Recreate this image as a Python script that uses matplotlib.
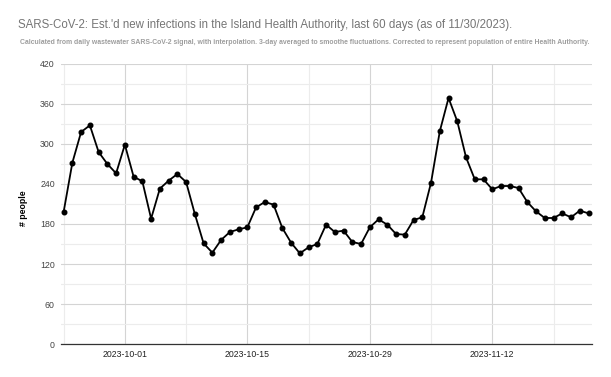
import datetime as dt

import matplotlib
matplotlib.use("Agg")
import matplotlib.dates as mdates
import matplotlib.pyplot as plt
from matplotlib.ticker import MultipleLocator

start = dt.date(2023, 9, 24)
infections = [
    198, 272, 318, 328, 288, 270, 256,
    299, 251, 244, 188, 233, 245, 255, 243, 195, 151, 137, 156, 168, 172,
    175, 205, 213, 209, 174, 152, 136, 145, 150, 179, 168, 170, 153, 150,
    175, 187, 179, 165, 164, 186, 190, 242, 319, 369, 334, 280, 247, 247,
    232, 237, 237, 234, 213, 199, 189, 189, 196, 190, 200, 196,
]
dates = [start + dt.timedelta(days=i) for i in range(len(infections))]
labelled_dates = [dt.date(2023, 10, 1), dt.date(2023, 10, 15),
                  dt.date(2023, 10, 29), dt.date(2023, 11, 12)]
week_dates = [dt.date(2023, 9, 24) + dt.timedelta(days=7 * k) for k in range(9)]

title = ("SARS-CoV-2: Est.'d new infections in the Island Health Authority, "
         "last 60 days (as of 11/30/2023).")
subtitle = ("Calculated from daily wastewater SARS-CoV-2 signal, with interpolation. "
            "3-day averaged to smoothe fluctuations. Corrected to represent "
            "population of entire Health Authority.")

plt.rcParams["font.family"] = ["Liberation Sans", "DejaVu Sans"]

fig = plt.figure(figsize=(6.11, 3.77), dpi=100)
ax = fig.add_axes([61 / 611, 1 - 344 / 377, (592 - 61) / 611, (344 - 64) / 377])

ax.plot(dates, infections, color="black", lw=1.3, marker="o", ms=3.3, zorder=3)

ax.set_ylim(0, 420)
ax.yaxis.set_major_locator(MultipleLocator(60))
ax.yaxis.set_minor_locator(MultipleLocator(30))
ax.set_xlim(mdates.date2num(start) - 0.3, mdates.date2num(dates[-1]) + 0.4)
ax.set_xticks(mdates.date2num(labelled_dates))
ax.set_xticklabels([d.isoformat() for d in labelled_dates])
ax.set_xticks([mdates.date2num(d) for d in week_dates if d not in labelled_dates],
              minor=True)

ax.grid(which="major", color="#d4d4d4", lw=0.8)
ax.grid(which="minor", color="#ececec", lw=0.8)
ax.set_axisbelow(True)
for side in ["top", "right", "left"]:
    ax.spines[side].set_visible(False)
ax.spines["bottom"].set_color("#333333")
ax.spines["bottom"].set_linewidth(0.9)
ax.tick_params(which="both", length=0)
ax.tick_params(axis="y", labelsize=6.3, labelcolor="#444444", pad=4.5)
ax.tick_params(axis="x", labelsize=6.3, labelcolor="#222222", pad=4)

fig.text(23 / 611, 1 - 208 / 377, "# people", fontsize=6.3, fontweight="bold",
         rotation=90, ha="center", va="center")

fig.text(18 / 611, 1 - 25 / 377, title, fontsize=8.3, color="#757575", va="center")
fig.text(20 / 611, 1 - 42 / 377, subtitle, fontsize=4.97, color="#9e9e9e",
         fontweight="bold", va="center")

fig.savefig("out.png", dpi=100)
